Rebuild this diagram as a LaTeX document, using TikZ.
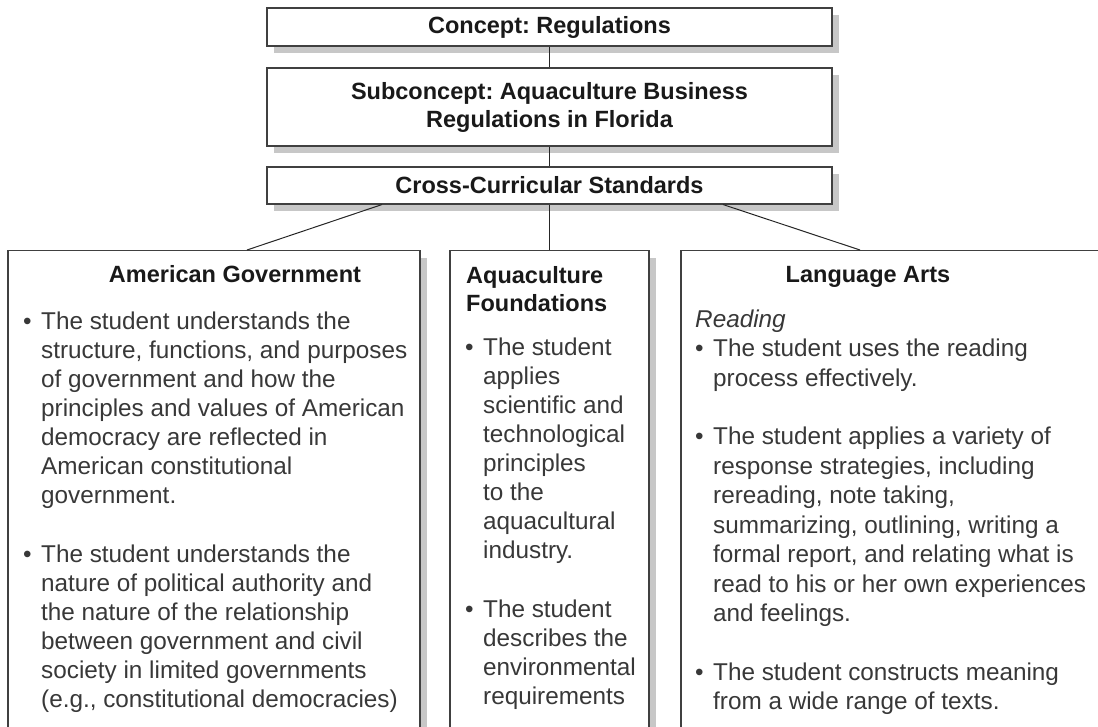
\documentclass[tikz,border=0pt]{standalone}
\usepackage{fontspec}
\setmainfont{Liberation Sans}
\usetikzlibrary{shadows,positioning}
\frenchspacing

\newcommand{\stdbullet}{\makebox[18pt][l]{\textbullet}}
\newcommand{\stdindent}{\hspace*{18pt}}

\begin{document}
\begin{tikzpicture}[x=1pt,y=-1pt,
    box/.style={rectangle, draw=black!75, line width=1.1pt, fill=white, inner sep=0pt,
      drop shadow={shadow xshift=7pt, shadow yshift=-7pt, fill=black!22, opacity=1}},
    head/.style={font=\fontsize{23.5}{28}\selectfont\bfseries, text=black!90},
    body/.style={font=\fontsize{24.3}{29}\selectfont, text=black!78, align=left,
      anchor=north west, inner sep=0pt},
    link/.style={draw=black!85, line width=1pt}]
  \clip (0,0) rectangle (1098,727);
  % Concept boxes
  \node (concept) [box, head, minimum width=565pt, minimum height=38pt] at (549.5,27) {Concept: Regulations};
  \node (sub) [box, head, align=center, minimum width=565pt, minimum height=78pt] at (549.5,107)
    {Subconcept: Aquaculture Business\\Regulations in Florida};
  \node (cross) [box, head, minimum width=565pt, minimum height=37pt] at (549.5,185.5) {Cross-Curricular Standards};
  % Standards boxes
  \node (gov) [box, anchor=north, minimum width=412pt, minimum height=520pt] at (214,250) {};
  \node (aqua) [box, anchor=north, minimum width=199pt, minimum height=520pt] at (549.5,250) {};
  \node (arts) [box, anchor=north, minimum width=440pt, minimum height=520pt] at (901,250) {};
  % Connectors
  \draw[link] (concept) -- (sub);
  \draw[link] (sub) -- (cross);
  \draw[link] ([xshift=-167.5pt]cross.south) -- ([xshift=33pt]gov.north);
  \draw[link] (cross.south) -- (aqua.north);
  \draw[link] ([xshift=173.5pt]cross.south) -- ([xshift=-41pt]arts.north);
  % Titles
  \node (gov-title) [head, anchor=base, inner sep=0pt] at (235,283) {American Government};
  \node (aqua-title) [head, align=left, anchor=north west, inner sep=0pt] at (466,266) {Aquaculture\\Foundations};
  \node (arts-title) [head, anchor=base, inner sep=0pt] at (868,283) {Language Arts};
  % Standards
  \node (gov-text) [body] at (23,311.6) {%
    \stdbullet The student understands the\\
    \stdindent structure, functions, and purposes\\
    \stdindent of government and how the\\
    \stdindent principles and values of American\\
    \stdindent democracy are reflected in\\
    \stdindent American constitutional\\
    \stdindent government.\\[30pt]
    \stdbullet The student understands the\\
    \stdindent nature of political authority and\\
    \stdindent the nature of the relationship\\
    \stdindent between government and civil\\
    \stdindent society in limited governments\\
    \stdindent (e.g., constitutional democracies)};
  \node (aqua-text) [body] at (465,337.6) {%
    \stdbullet The student\\
    \stdindent applies\\
    \stdindent scientific and\\
    \stdindent technological\\
    \stdindent principles\\
    \stdindent to the\\
    \stdindent aquacultural\\
    \stdindent industry.\\[30pt]
    \stdbullet The student\\
    \stdindent describes the\\
    \stdindent environmental\\
    \stdindent requirements};
  \node (arts-text) [body, font=\fontsize{24.3}{29.5}\selectfont] at (695,309.6) {%
    \textit{Reading}\\
    \stdbullet The student uses the reading\\
    \stdindent process effectively.\\[29pt]
    \stdbullet The student applies a variety of\\
    \stdindent response strategies, including\\
    \stdindent rereading, note taking,\\
    \stdindent summarizing, outlining, writing a\\
    \stdindent formal report, and relating what is\\
    \stdindent read to his or her own experiences\\
    \stdindent and feelings.\\[29pt]
    \stdbullet The student constructs meaning\\
    \stdindent from a wide range of texts.};
\end{tikzpicture}
\end{document}
